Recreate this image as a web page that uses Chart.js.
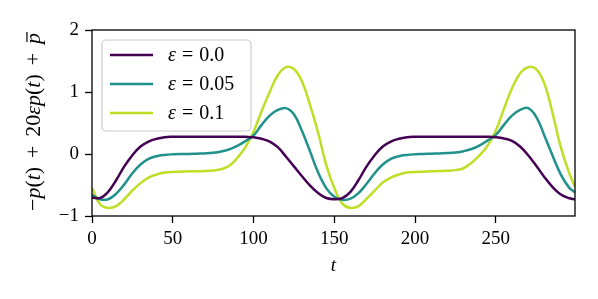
<!DOCTYPE html>
<html lang="en">
<head>
<meta charset="UTF-8">
<title>-p(t) + 20 eps p(t) + pbar</title>
<script src="https://cdn.jsdelivr.net/npm/chart.js@4.4.0/dist/chart.umd.min.js"></script>
<style>
    * { margin: 0; padding: 0; box-sizing: border-box; }
    body { background: #fff; width: 598px; height: 299px; overflow: hidden; }
    .wrap { position: relative; width: 598px; height: 299px; }
</style>
</head>
<body>
<div class="wrap"><canvas id="chart" width="598" height="299"></canvas></div>
<script>
// sample times (step 5, last point at 299)
const tValues = [0,5,10,15,20,25,30,35,40,45,50,55,60,65,70,75,80,85,90,95,
                 100,105,110,115,120,125,130,135,140,145,150,155,160,165,170,175,180,185,190,195,
                 200,205,210,215,220,225,230,235,240,245,250,255,260,265,270,275,280,285,290,295,299];

// epsilon = 0.0
const eps00 = [-0.70,-0.71,-0.61,-0.42,-0.20,-0.02,0.12,0.20,0.245,0.27,
               0.278,0.28,0.28,0.28,0.28,0.28,0.28,0.28,0.28,0.277,
               0.27,0.245,0.20,0.11,-0.04,-0.20,-0.36,-0.51,-0.63,-0.71,
               -0.73,-0.71,-0.61,-0.42,-0.20,-0.02,0.12,0.20,0.245,0.27,
               0.278,0.28,0.28,0.28,0.28,0.28,0.28,0.28,0.28,0.278,
               0.27,0.25,0.21,0.12,-0.02,-0.19,-0.37,-0.53,-0.65,-0.71,-0.73];

// epsilon = 0.05
const eps005 = [-0.66,-0.73,-0.73,-0.64,-0.49,-0.31,-0.17,-0.08,-0.035,-0.015,
                -0.005,0.0,0.0,0.005,0.01,0.02,0.04,0.075,0.13,0.21,
                0.30,0.47,0.62,0.71,0.74,0.64,0.37,0.04,-0.30,-0.55,
                -0.69,-0.74,-0.72,-0.63,-0.48,-0.31,-0.17,-0.08,-0.035,-0.015,
                -0.005,0.0,0.005,0.01,0.015,0.025,0.045,0.08,0.14,0.22,
                0.31,0.47,0.62,0.71,0.74,0.60,0.30,-0.02,-0.32,-0.53,-0.62];

// epsilon = 0.1
const eps01 = [-0.55,-0.81,-0.87,-0.84,-0.73,-0.59,-0.47,-0.38,-0.33,-0.30,
               -0.29,-0.285,-0.28,-0.28,-0.275,-0.265,-0.245,-0.19,-0.06,0.11,
               0.36,0.69,1.00,1.27,1.40,1.37,1.17,0.79,0.34,-0.18,
               -0.55,-0.80,-0.87,-0.84,-0.72,-0.59,-0.46,-0.38,-0.33,-0.30,
               -0.29,-0.285,-0.28,-0.275,-0.27,-0.26,-0.23,-0.14,-0.02,0.14,
               0.38,0.73,1.06,1.30,1.40,1.37,1.14,0.67,0.13,-0.28,-0.53];

const epsLabels = ['0.0', '0.05', '0.1'];
const xTicks = [0, 50, 100, 150, 200, 250];
const yTicks = [-1, 0, 1, 2];

const colors = ['#440154', '#21918c', '#bddf26'];
const FONT = 'Liberation Serif';
const FS = 19;

function toPoints(ys) {
    return ys.map((y, i) => ({ x: tValues[i], y: y }));
}

// widths of text runs; numbers are fixed gaps in px
function runWidths(ctx, runs, size) {
    return runs.map(r => {
        if (typeof r === 'number') return r;
        ctx.font = (r[1] ? 'italic ' : '') + size + 'px "' + FONT + '"';
        return ctx.measureText(r[0]).width;
    });
}

function drawRuns(ctx, runs, x, y, size) {
    const w = runWidths(ctx, runs, size);
    let cx = x;
    runs.forEach((r, i) => {
        if (typeof r !== 'number') {
            ctx.font = (r[1] ? 'italic ' : '') + size + 'px "' + FONT + '"';
            ctx.fillText(r[0], cx, y);
            if (r[2] === 'bar') {
                ctx.fillRect(cx + 2, y - size * 0.62, w[i] - 1, 1.2);
            }
        }
        cx += w[i];
    });
}

const decorPlugin = {
    id: 'decor',
    afterDatasetsDraw(chart) {
        const ctx = chart.ctx;
        const a = chart.chartArea;
        ctx.save();

        // legend box
        const bx = 102, by = 40, bw = 149, bh = 91, r = 4;
        ctx.beginPath();
        ctx.moveTo(bx + r, by);
        ctx.arcTo(bx + bw, by, bx + bw, by + bh, r);
        ctx.arcTo(bx + bw, by + bh, bx, by + bh, r);
        ctx.arcTo(bx, by + bh, bx, by, r);
        ctx.arcTo(bx, by, bx + bw, by, r);
        ctx.closePath();
        ctx.fillStyle = 'rgba(255,255,255,0.8)';
        ctx.fill();
        ctx.strokeStyle = '#cccccc';
        ctx.lineWidth = 1.2;
        ctx.stroke();

        ctx.textBaseline = 'middle';
        ctx.fillStyle = '#000';
        epsLabels.forEach((lab, i) => {
            const y = 55 + i * 29;
            ctx.strokeStyle = colors[i];
            ctx.lineWidth = 2.5;
            ctx.beginPath();
            ctx.moveTo(110, y);
            ctx.lineTo(153, y);
            ctx.stroke();
            drawRuns(ctx, [['\u03b5', true], 6, ['=', false], 6, [lab, false]], 168, y + 1, FS + 1);
        });

        // axes frame
        ctx.strokeStyle = '#000';
        ctx.lineWidth = 1.3;
        ctx.strokeRect(a.left, a.top, a.right - a.left, a.bottom - a.top);

        // x title
        ctx.textBaseline = 'alphabetic';
        ctx.textAlign = 'center';
        ctx.font = 'italic ' + FS + 'px "' + FONT + '"';
        ctx.fillText('t', (a.left + a.right) / 2, 271);

        // y title, rotated; font sized so the label spans ~178px
        ctx.textAlign = 'left';
        const gap = 'G';
        const runs = [['\u2212', false], ['p', true], ['(', false], ['t', true], [')', false], gap,
                      ['+', false], gap, ['20', false], ['\u03b5', true], ['p', true], ['(', false],
                      ['t', true], [')', false], gap, ['+', false], gap, ['p', true, 'bar']];
        const base = runs.filter(r => r !== gap);
        const nat19 = runWidths(ctx, base, 19).reduce((s, v) => s + v, 0);
        let fs = 178 / (nat19 / 19 + 4 * 0.24);
        fs = Math.min(22, fs);
        const g = (178 - nat19 * fs / 19) / 4;
        const finalRuns = runs.map(r => r === gap ? g : r);
        const total = runWidths(ctx, finalRuns, fs).reduce((s, v) => s + v, 0);
        ctx.translate(40, 122);
        ctx.rotate(-Math.PI / 2);
        drawRuns(ctx, finalRuns, -total / 2, 0, fs);
        ctx.restore();
    }
};

const ctx = document.getElementById('chart').getContext('2d');
const chart = new Chart(ctx, {
    type: 'line',
    data: {
        datasets: [eps00, eps005, eps01].map((ys, i) => ({
            label: '\u03b5 = ' + epsLabels[i],
            data: toPoints(ys),
            borderColor: colors[i],
            borderWidth: 2.5,
            pointRadius: 0,
            fill: false,
            tension: 0.4
        }))
    },
    options: {
        responsive: false,
        animation: false,
        devicePixelRatio: 1,
        layout: { padding: { top: 30, right: 23, left: 0, bottom: 0 } },
        plugins: { legend: { display: false }, tooltip: { enabled: false } },
        scales: {
            x: {
                type: 'linear',
                min: 0,
                max: 299,
                afterBuildTicks: s => { s.ticks = xTicks.map(v => ({ value: v })); },
                afterFit: s => { s.height = 83; },
                border: { display: false },
                grid: { drawOnChartArea: false, drawTicks: true, tickLength: 7, tickColor: '#000', tickWidth: 1.3 },
                ticks: { color: '#000', padding: 5, maxRotation: 0, font: { family: FONT, size: FS } }
            },
            y: {
                min: -1,
                max: 2,
                afterBuildTicks: s => { s.ticks = yTicks.map(v => ({ value: v })); },
                afterFit: s => { s.width = 92; },
                border: { display: false },
                grid: { drawOnChartArea: false, drawTicks: true, tickLength: 7, tickColor: '#000', tickWidth: 1.3 },
                ticks: {
                    color: '#000',
                    padding: 6,
                    font: { family: FONT, size: FS },
                    callback: v => (v < 0 ? '\u2212' + Math.abs(v) : String(v))
                }
            }
        }
    },
    plugins: [decorPlugin]
});
</script>
</body>
</html>
